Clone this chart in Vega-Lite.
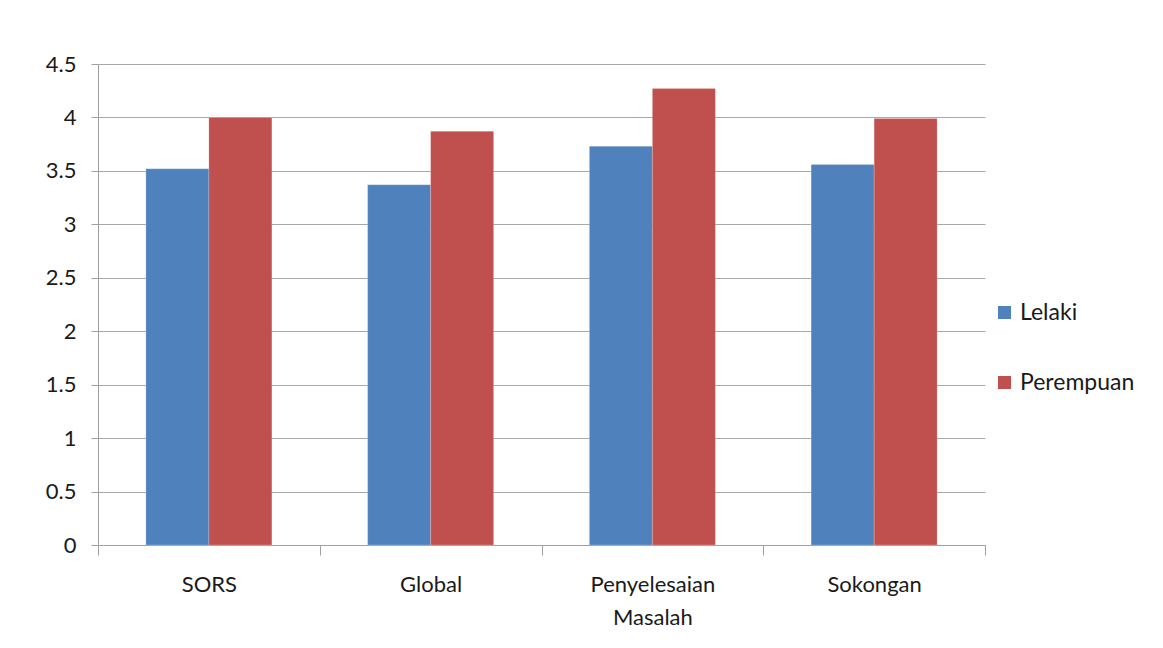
{
  "$schema": "https://vega.github.io/schema/vega-lite/v6.json",
  "autosize": {"type": "none"},
  "width": 887,
  "height": 481,
  "padding": {"left": 98, "top": 64, "right": 178, "bottom": 103},
  "background": "white",
  "data": {
    "values": [
      {"kategori": "SORS", "jantina": "Lelaki", "nilai": 3.52},
      {"kategori": "SORS", "jantina": "Perempuan", "nilai": 4.0},
      {"kategori": "Global", "jantina": "Lelaki", "nilai": 3.37},
      {"kategori": "Global", "jantina": "Perempuan", "nilai": 3.87},
      {"kategori": "Penyelesaian Masalah", "jantina": "Lelaki", "nilai": 3.73},
      {"kategori": "Penyelesaian Masalah", "jantina": "Perempuan", "nilai": 4.27},
      {"kategori": "Sokongan", "jantina": "Lelaki", "nilai": 3.56},
      {"kategori": "Sokongan", "jantina": "Perempuan", "nilai": 3.99}
    ]
  },
  "mark": {"type": "bar", "stroke": "white", "strokeOpacity": 0.4, "strokeWidth": 0.5},
  "encoding": {
    "x": {
      "field": "kategori",
      "type": "nominal",
      "sort": null,
      "scale": {"paddingInner": 0, "paddingOuter": 0},
      "axis": {
        "title": null,
        "labelAngle": 0,
        "tickBand": "extent",
        "tickSize": 10,
        "tickColor": "#a0a0a0",
        "domainColor": "#a0a0a0",
        "labelPadding": 19,
        "labelFontSize": 22,
        "labelLineHeight": 33,
        "labelBaseline": "top",
        "labelExpr": "datum.label == 'Penyelesaian Masalah' ? ['Penyelesaian', 'Masalah'] : datum.label"
      }
    },
    "xOffset": {
      "field": "jantina",
      "type": "nominal",
      "scale": {"paddingInner": 0, "paddingOuter": 0.76}
    },
    "y": {
      "field": "nilai",
      "type": "quantitative",
      "scale": {"domain": [0, 4.5], "nice": false, "zero": true},
      "axis": {
        "title": null,
        "values": [0, 0.5, 1, 1.5, 2, 2.5, 3, 3.5, 4, 4.5],
        "format": "~g",
        "tickSize": 7,
        "tickColor": "#a0a0a0",
        "domainColor": "#a0a0a0",
        "gridColor": "#a8a8a8",
        "grid": true,
        "labelPadding": 15,
        "labelFontSize": 22
      }
    },
    "color": {
      "field": "jantina",
      "type": "nominal",
      "scale": {"domain": ["Lelaki", "Perempuan"], "range": ["#4F81BD", "#C0504D"]},
      "legend": {
        "title": null,
        "orient": "none",
        "legendX": 895,
        "legendY": 237,
        "symbolType": "square",
        "symbolSize": 170,
        "symbolStrokeWidth": 0,
        "labelFontSize": 23,
        "rowPadding": 46,
        "labelOffset": 4
      }
    }
  },
  "config": {
    "font": "Lato",
    "view": {"stroke": null},
    "axis": {"labelColor": "#1a1a1a", "labelFont": "Lato"},
    "legend": {"labelColor": "#1a1a1a", "labelFont": "Lato"}
  }
}
